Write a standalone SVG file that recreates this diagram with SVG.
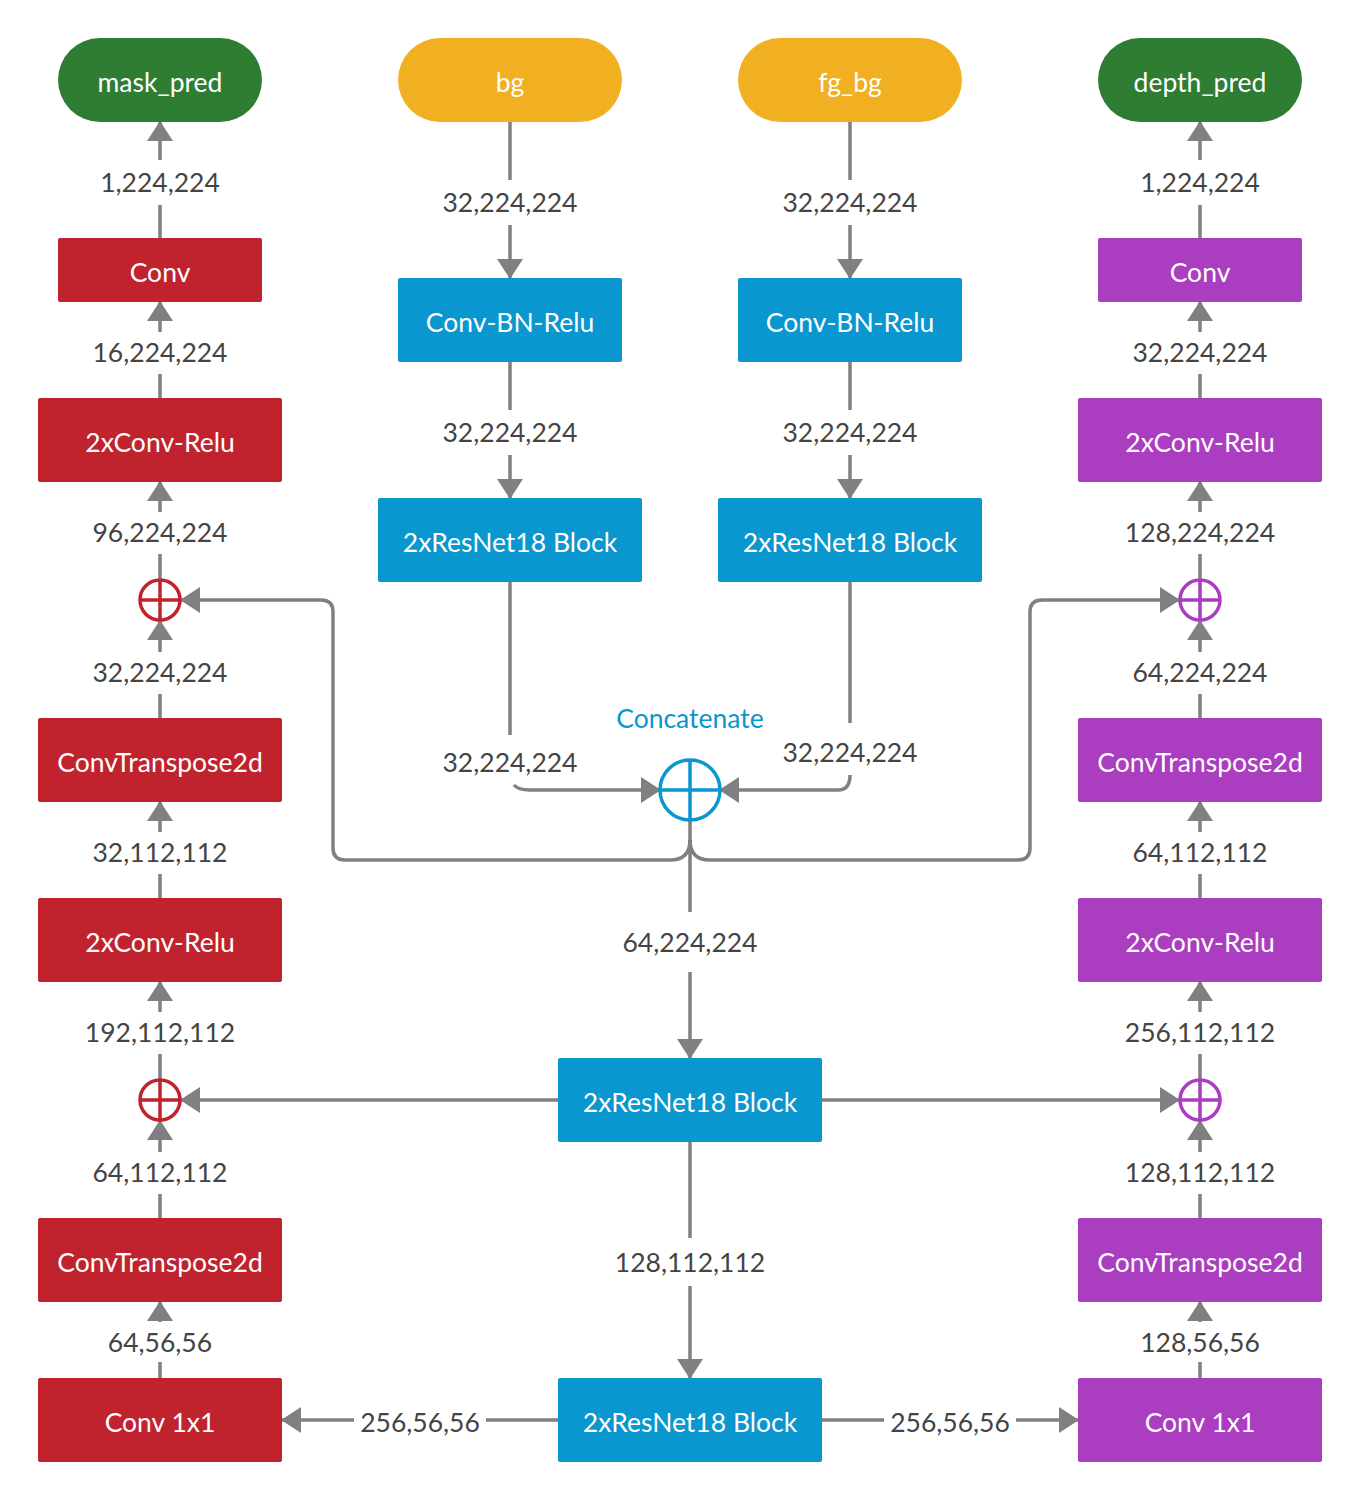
<svg xmlns="http://www.w3.org/2000/svg" width="1360" height="1500" viewBox="0 0 1360 1500">
<defs>
<marker id="ah" viewBox="0 0 20 26" refX="19" refY="13" markerWidth="20" markerHeight="26" markerUnits="userSpaceOnUse" orient="auto">
<path d="M0,0 L20,13 L0,26 z" fill="#808080"/>
</marker>
<style>
.ln{fill:none;stroke:#808080;stroke-width:3.5;}
.ar{marker-end:url(#ah);}
.lb{font-family:Lato,"Open Sans",sans-serif;font-size:26.5px;fill:#444;text-anchor:middle;dominant-baseline:central;}
.nt{font-family:Lato,"Open Sans",sans-serif;font-size:26.5px;fill:#fff;text-anchor:middle;dominant-baseline:central;}
.red{fill:#C1232E;}
.blue{fill:#0A96CE;}
.pur{fill:#AB3DC0;}
.grn{fill:#2E7D32;}
.yel{fill:#F0B021;}
</style>
</defs>
<rect width="1360" height="1500" fill="#fff"/>

<g id="connectors">
<!-- left column -->
<path class="ln ar" d="M160,1378 V1362 M160,1322 V1302"/>
<path class="ln ar" d="M160,1218 V1194 M160,1152 V1121"/>
<path class="ln ar" d="M160,1079 V1054 M160,1012 V982"/>
<path class="ln ar" d="M160,898 V874 M160,832 V802"/>
<path class="ln ar" d="M160,718 V694 M160,652 V621"/>
<path class="ln ar" d="M160,579 V554 M160,512 V482"/>
<path class="ln ar" d="M160,398 V374 M160,332 V302"/>
<path class="ln ar" d="M160,238 V205 M160,160 V122"/>
<!-- right column -->
<path class="ln ar" d="M1200,1378 V1362 M1200,1322 V1302"/>
<path class="ln ar" d="M1200,1218 V1194 M1200,1152 V1121"/>
<path class="ln ar" d="M1200,1079 V1054 M1200,1012 V982"/>
<path class="ln ar" d="M1200,898 V874 M1200,832 V802"/>
<path class="ln ar" d="M1200,718 V694 M1200,652 V621"/>
<path class="ln ar" d="M1200,579 V554 M1200,512 V482"/>
<path class="ln ar" d="M1200,398 V374 M1200,332 V302"/>
<path class="ln ar" d="M1200,238 V205 M1200,160 V122"/>
<!-- center top -->
<path class="ln ar" d="M510,122 V180 M510,225 V278"/>
<path class="ln ar" d="M510,362 V410 M510,455 V498"/>
<path class="ln ar" d="M850,122 V180 M850,225 V278"/>
<path class="ln ar" d="M850,362 V410 M850,455 V498"/>
<!-- into concatenate -->
<path class="ln" d="M510,582 V735"/>
<path class="ln ar" d="M514,785 Q518,790 530,790 H660"/>
<path class="ln" d="M850,582 V723"/>
<path class="ln ar" d="M850,775 Q850,790 838,790 H720"/>
<!-- concatenate outputs -->
<path class="ln ar" d="M690,820 V912 M690,972 V1058"/>
<path class="ln ar" d="M690,840 Q690,860 670,860 H345 Q333,860 333,848 V612 Q333,600 321,600 H181"/>
<path class="ln ar" d="M690,840 Q690,860 710,860 H1018 Q1030,860 1030,848 V612 Q1030,600 1042,600 H1179"/>
<!-- middle resnet -->
<path class="ln ar" d="M558,1100 H181"/>
<path class="ln ar" d="M822,1100 H1179"/>
<path class="ln ar" d="M690,1142 V1238 M690,1286 V1378"/>
<!-- bottom -->
<path class="ln ar" d="M558,1420 H486 M354,1420 H282"/>
<path class="ln ar" d="M822,1420 H884 M1016,1420 H1078"/>
</g>

<g id="edge-labels">
<text class="lb" x="160" y="1342">64,56,56</text>
<text class="lb" x="160" y="1172">64,112,112</text>
<text class="lb" x="160" y="1032">192,112,112</text>
<text class="lb" x="160" y="852">32,112,112</text>
<text class="lb" x="160" y="672">32,224,224</text>
<text class="lb" x="160" y="532">96,224,224</text>
<text class="lb" x="160" y="352">16,224,224</text>
<text class="lb" x="160" y="182">1,224,224</text>
<text class="lb" x="1200" y="1342">128,56,56</text>
<text class="lb" x="1200" y="1172">128,112,112</text>
<text class="lb" x="1200" y="1032">256,112,112</text>
<text class="lb" x="1200" y="852">64,112,112</text>
<text class="lb" x="1200" y="672">64,224,224</text>
<text class="lb" x="1200" y="532">128,224,224</text>
<text class="lb" x="1200" y="352">32,224,224</text>
<text class="lb" x="1200" y="182">1,224,224</text>
<text class="lb" x="510" y="202">32,224,224</text>
<text class="lb" x="510" y="432">32,224,224</text>
<text class="lb" x="850" y="202">32,224,224</text>
<text class="lb" x="850" y="432">32,224,224</text>
<text class="lb" x="510" y="762">32,224,224</text>
<text class="lb" x="850" y="752">32,224,224</text>
<text class="lb" x="690" y="942">64,224,224</text>
<text class="lb" x="690" y="1262">128,112,112</text>
<text class="lb" x="420" y="1422">256,56,56</text>
<text class="lb" x="950" y="1422">256,56,56</text>
</g>

<g id="mask_pred"><rect class="grn" x="58" y="38" width="204" height="84" rx="42"/><text class="nt" x="160" y="82">mask_pred</text></g>
<g id="bg"><rect class="yel" x="398" y="38" width="224" height="84" rx="42"/><text class="nt" x="510" y="82">bg</text></g>
<g id="fg_bg"><rect class="yel" x="738" y="38" width="224" height="84" rx="42"/><text class="nt" x="850" y="82">fg_bg</text></g>
<g id="depth_pred"><rect class="grn" x="1098" y="38" width="204" height="84" rx="42"/><text class="nt" x="1200" y="82">depth_pred</text></g>

<g id="l_conv"><rect class="red" x="58" y="238" width="204" height="64" rx="2"/><text class="nt" x="160" y="272">Conv</text></g>
<g id="l_2xconv1"><rect class="red" x="38" y="398" width="244" height="84" rx="2"/><text class="nt" x="160" y="442">2xConv-Relu</text></g>
<g id="l_plus1"><circle cx="160" cy="600" r="20" fill="#fff" stroke="#C1232E" stroke-width="3.5"/><path d="M140,600 H180 M160,580 V620" stroke="#C1232E" stroke-width="3.5"/></g>
<g id="l_convt1"><rect class="red" x="38" y="718" width="244" height="84" rx="2"/><text class="nt" x="160" y="762">ConvTranspose2d</text></g>
<g id="l_2xconv2"><rect class="red" x="38" y="898" width="244" height="84" rx="2"/><text class="nt" x="160" y="942">2xConv-Relu</text></g>
<g id="l_plus2"><circle cx="160" cy="1100" r="20" fill="#fff" stroke="#C1232E" stroke-width="3.5"/><path d="M140,1100 H180 M160,1080 V1120" stroke="#C1232E" stroke-width="3.5"/></g>
<g id="l_convt2"><rect class="red" x="38" y="1218" width="244" height="84" rx="2"/><text class="nt" x="160" y="1262">ConvTranspose2d</text></g>
<g id="l_conv1x1"><rect class="red" x="38" y="1378" width="244" height="84" rx="2"/><text class="nt" x="160" y="1422">Conv 1x1</text></g>

<g id="r_conv"><rect class="pur" x="1098" y="238" width="204" height="64" rx="2"/><text class="nt" x="1200" y="272">Conv</text></g>
<g id="r_2xconv1"><rect class="pur" x="1078" y="398" width="244" height="84" rx="2"/><text class="nt" x="1200" y="442">2xConv-Relu</text></g>
<g id="r_plus1"><circle cx="1200" cy="600" r="20" fill="#fff" stroke="#AB3DC0" stroke-width="3.5"/><path d="M1180,600 H1220 M1200,580 V620" stroke="#AB3DC0" stroke-width="3.5"/></g>
<g id="r_convt1"><rect class="pur" x="1078" y="718" width="244" height="84" rx="2"/><text class="nt" x="1200" y="762">ConvTranspose2d</text></g>
<g id="r_2xconv2"><rect class="pur" x="1078" y="898" width="244" height="84" rx="2"/><text class="nt" x="1200" y="942">2xConv-Relu</text></g>
<g id="r_plus2"><circle cx="1200" cy="1100" r="20" fill="#fff" stroke="#AB3DC0" stroke-width="3.5"/><path d="M1180,1100 H1220 M1200,1080 V1120" stroke="#AB3DC0" stroke-width="3.5"/></g>
<g id="r_convt2"><rect class="pur" x="1078" y="1218" width="244" height="84" rx="2"/><text class="nt" x="1200" y="1262">ConvTranspose2d</text></g>
<g id="r_conv1x1"><rect class="pur" x="1078" y="1378" width="244" height="84" rx="2"/><text class="nt" x="1200" y="1422">Conv 1x1</text></g>

<g id="bg_convbn"><rect class="blue" x="398" y="278" width="224" height="84" rx="2"/><text class="nt" x="510" y="322">Conv-BN-Relu</text></g>
<g id="bg_resnet"><rect class="blue" x="378" y="498" width="264" height="84" rx="2"/><text class="nt" x="510" y="542">2xResNet18 Block</text></g>
<g id="fg_convbn"><rect class="blue" x="738" y="278" width="224" height="84" rx="2"/><text class="nt" x="850" y="322">Conv-BN-Relu</text></g>
<g id="fg_resnet"><rect class="blue" x="718" y="498" width="264" height="84" rx="2"/><text class="nt" x="850" y="542">2xResNet18 Block</text></g>

<g id="concatenate"><circle cx="690" cy="790" r="30" fill="#fff" stroke="#0A96CE" stroke-width="3.5"/><path d="M660,790 H720 M690,760 V820" stroke="#0A96CE" stroke-width="3.5"/><text x="690" y="718" font-family="Lato,'Open Sans',sans-serif" font-size="26.5" fill="#0A96CE" text-anchor="middle" dominant-baseline="central">Concatenate</text></g>

<g id="mid_resnet"><rect class="blue" x="558" y="1058" width="264" height="84" rx="2"/><text class="nt" x="690" y="1102">2xResNet18 Block</text></g>
<g id="bot_resnet"><rect class="blue" x="558" y="1378" width="264" height="84" rx="2"/><text class="nt" x="690" y="1422">2xResNet18 Block</text></g>
</svg>
